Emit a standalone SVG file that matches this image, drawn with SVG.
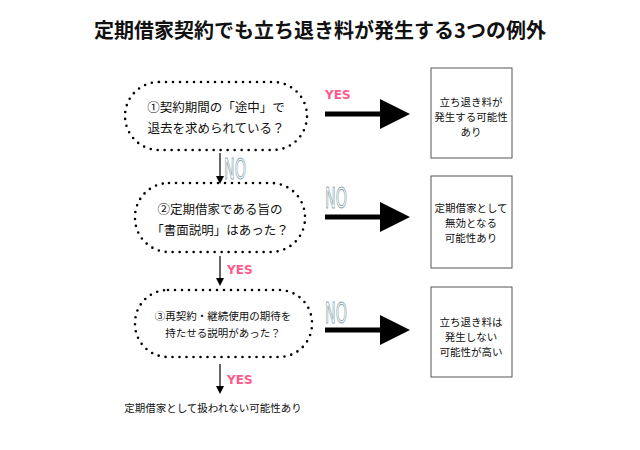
<svg xmlns="http://www.w3.org/2000/svg" width="640" height="450" viewBox="0 0 640 450">
<style>
text{font-family:"Noto Sans CJK JP","Noto Sans",sans-serif;fill:#111}
.n{fill:#fff;stroke:#000;stroke-width:2.6;stroke-dasharray:0 7;stroke-linecap:round}
.b{fill:#fff;stroke:#555;stroke-width:1}
.t{font-size:12.5px;text-anchor:middle}
.s{font-size:10.5px;text-anchor:middle}
.yes{font-family:"DejaVu Sans",sans-serif;font-weight:bold;font-size:12px;fill:#ff5a8a}
.no{font-family:"DejaVu Sans Condensed","DejaVu Sans",sans-serif;font-size:29px;fill:#fff;stroke:#8aa6b0;stroke-width:1}
.h{stroke:#000;stroke-width:5}
.v{stroke:#000;stroke-width:1.2}
</style>
<defs>
<marker id="ah" markerWidth="6" markerHeight="6" refX="1" refY="3" orient="auto" markerUnits="strokeWidth"><path d="M0,0L6,3L0,6z" fill="#000"/></marker>
<marker id="av" markerWidth="8" markerHeight="8" refX="6" refY="4" orient="auto" markerUnits="userSpaceOnUse"><path d="M0,0L8,4L0,8z" fill="#000"/></marker>
</defs>
<text x="320" y="38" style="font-size:20px;font-weight:bold;text-anchor:middle">定期借家契約でも立ち退き料が発生する3つの例外</text>
<g id="q1"><rect class="n" x="125" y="82" width="182" height="68" rx="34"/><text class="t" x="216" y="112">①契約期間の「途中」で</text><text class="t" x="216" y="133">退去を求められている？</text></g>
<g id="q2"><rect class="n" x="135" y="183" width="170" height="69" rx="34"/><text class="t" x="220" y="214">②定期借家である旨の</text><text class="t" x="220" y="235">「書面説明」はあった？</text></g>
<g id="q3"><rect class="n" x="135" y="290" width="177" height="67" rx="33"/><text class="s" x="223" y="320">③再契約・継続使用の期待を</text><text class="s" x="223" y="337">持たせる説明があった？</text></g>
<g id="r1"><rect class="b" x="431" y="68" width="81" height="90"/><text class="s" x="471" y="106">立ち退き料が</text><text class="s" x="471" y="121">発生する可能性</text><text class="s" x="471" y="136">あり</text></g>
<g id="r2"><rect class="b" x="431" y="176" width="81" height="92"/><text class="s" x="471" y="212">定期借家として</text><text class="s" x="471" y="227">無効となる</text><text class="s" x="471" y="242">可能性あり</text></g>
<g id="r3"><rect class="b" x="431" y="287" width="81" height="90"/><text class="s" x="471" y="326">立ち退き料は</text><text class="s" x="471" y="341">発生しない</text><text class="s" x="471" y="356">可能性が高い</text></g>
<g id="end"><text class="s" x="213" y="412">定期借家として扱われない可能性あり</text></g>
<g id="connectors">
<line class="h" x1="325" y1="114" x2="385" y2="114" marker-end="url(#ah)"/>
<line class="h" x1="325" y1="217" x2="385" y2="217" marker-end="url(#ah)"/>
<line class="h" x1="325" y1="330" x2="385" y2="330" marker-end="url(#ah)"/>
<line class="v" x1="220" y1="153" x2="220" y2="182" marker-end="url(#av)"/>
<line class="v" x1="220" y1="256" x2="220" y2="284" marker-end="url(#av)"/>
<line class="v" x1="220" y1="364" x2="220" y2="392" marker-end="url(#av)"/>
<text class="yes" x="325" y="99">YES</text>
<text class="no" x="224" y="179" textLength="22" lengthAdjust="spacingAndGlyphs">NO</text>
<text class="yes" x="227" y="274">YES</text>
<text class="no" x="325" y="208" textLength="22" lengthAdjust="spacingAndGlyphs">NO</text>
<text class="no" x="325" y="323" textLength="22" lengthAdjust="spacingAndGlyphs">NO</text>
<text class="yes" x="227" y="384">YES</text>
</g>
</svg>
